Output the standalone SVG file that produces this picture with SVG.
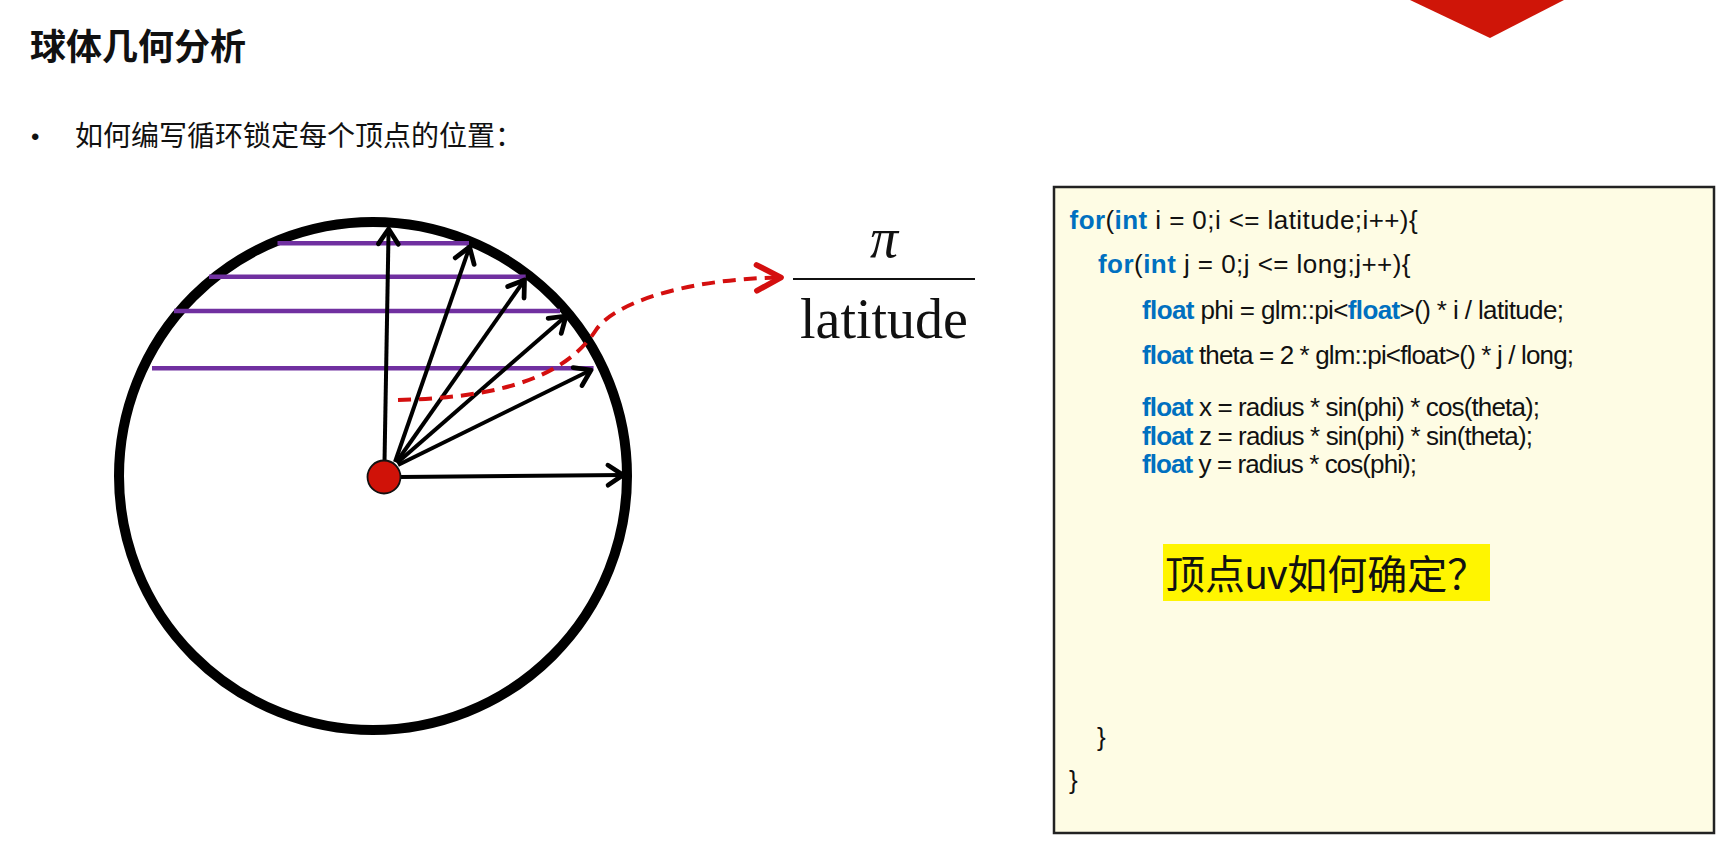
<svg xmlns="http://www.w3.org/2000/svg" width="1734" height="862" viewBox="0 0 1734 862">
<style>
.cjk{font-family:"Liberation Sans","Noto Sans CJK SC",sans-serif;fill:#111}
.code{font-family:"Liberation Sans","Noto Sans CJK SC",sans-serif;font-size:26px;fill:#111}
.kw{fill:#0070C0;font-weight:bold}
.ray{stroke:#000;stroke-width:4;fill:none;marker-end:url(#ah)}
.lat{stroke:#7030A0;stroke-width:4.5}
</style>
<defs>
<marker id="ah" markerUnits="userSpaceOnUse" markerWidth="30" markerHeight="30" viewBox="-16 -12 20 24" refX="0" refY="0" orient="auto" overflow="visible">
<path d="M-12,-8 L0,0 L-12,8" fill="none" stroke="#000" stroke-width="3.8" stroke-linecap="round" stroke-linejoin="round"/>
</marker>
<marker id="rah" markerUnits="userSpaceOnUse" markerWidth="40" markerHeight="40" viewBox="-22 -14 26 28" refX="0" refY="0" orient="auto" overflow="visible">
<path d="M-17,-9 L0,0 L-17,9" fill="none" stroke="#D40F0F" stroke-width="4" stroke-linecap="round" stroke-linejoin="round"/>
</marker>
</defs>
<rect width="1734" height="862" fill="#fff"/>
<polygon id="corner" points="1410,0 1490,38 1564,0" fill="#CF1508"/>
<g id="title"><text class="cjk" x="30" y="60" font-size="36" font-weight="bold">球体几何分析</text></g>
<g id="bullet"><text class="cjk" x="31" y="145" font-size="24">•</text><text class="cjk" x="75" y="146" font-size="28">如何编写循环锁定每个顶点的位置：</text></g>
<g id="sphere">
<circle cx="373" cy="476" r="254" fill="none" stroke="#000" stroke-width="10"/>
</g>
<g id="latitudes">
<line class="lat" x1="277.5" y1="243.3" x2="469" y2="243.3"/>
<line class="lat" x1="209" y1="276.7" x2="525.7" y2="276.7"/>
<line class="lat" x1="174" y1="311" x2="560" y2="311"/>
<line class="lat" x1="152" y1="368.3" x2="593.6" y2="368.3"/>
</g>
<g id="connectors">
<path class="ray" d="M384.5,462 L388.6,229"/>
<path class="ray" d="M395,462 L469.6,247"/>
<path class="ray" d="M396.5,462 L524.5,280"/>
<path class="ray" d="M397,463 L566,316"/>
<path class="ray" d="M398,465 L591,370"/>
<path class="ray" d="M400,477 L623,475"/>
<path d="M398,400 C480,398 560,385 596,330 C612,305 680,279 781,277.5" fill="none" stroke="#D40F0F" stroke-width="4" stroke-dasharray="13,8" marker-end="url(#rah)"/>
</g>
<g id="center"><circle cx="384" cy="477" r="16.5" fill="#D01208" stroke="#111" stroke-width="1.8"/></g>
<g id="fraction">
<text x="884" y="257" font-family="Liberation Serif,serif" font-style="italic" font-size="56" text-anchor="middle" fill="#111">π</text>
<line x1="793" y1="279" x2="975" y2="279" stroke="#111" stroke-width="2.2"/>
<text x="884" y="338" font-family="Liberation Serif,serif" font-size="56" text-anchor="middle" fill="#111">latitude</text>
</g>
<g id="codebox">
<rect x="1054" y="187" width="660" height="646" fill="#FEFCE4" stroke="#222" stroke-width="2.5"/>
<text class="code" x="1069.6" y="229.3" textLength="348" lengthAdjust="spacing"><tspan class="kw">for</tspan>(<tspan class="kw">int</tspan> i = 0;i &lt;= latitude;i++){</text>
<text class="code" x="1098" y="272.7" textLength="312.5" lengthAdjust="spacing"><tspan class="kw">for</tspan>(<tspan class="kw">int</tspan> j = 0;j &lt;= long;j++){</text>
<text class="code" x="1142" y="319.3" textLength="422" lengthAdjust="spacing"><tspan class="kw">float</tspan> phi = glm::pi&lt;<tspan class="kw">float</tspan>&gt;() * i / latitude;</text>
<text class="code" x="1142" y="364" textLength="432" lengthAdjust="spacing"><tspan class="kw">float</tspan> theta = 2 * glm::pi&lt;float&gt;() * j / long;</text>
<text class="code" x="1142" y="416" textLength="398" lengthAdjust="spacing"><tspan class="kw">float</tspan> x = radius * sin(phi) * cos(theta);</text>
<text class="code" x="1142" y="445" textLength="391" lengthAdjust="spacing"><tspan class="kw">float</tspan> z = radius * sin(phi) * sin(theta);</text>
<text class="code" x="1142" y="473.3" textLength="275" lengthAdjust="spacing"><tspan class="kw">float</tspan> y = radius * cos(phi);</text>
<rect x="1163" y="544" width="327" height="57" fill="#FFF500"/>
<text class="cjk" x="1165" y="589" font-size="40">顶点uv如何确定？</text>
<text class="code" x="1097" y="746" font-size="22">}</text>
<text class="code" x="1069" y="789" font-size="22">}</text>
</g>
</svg>
